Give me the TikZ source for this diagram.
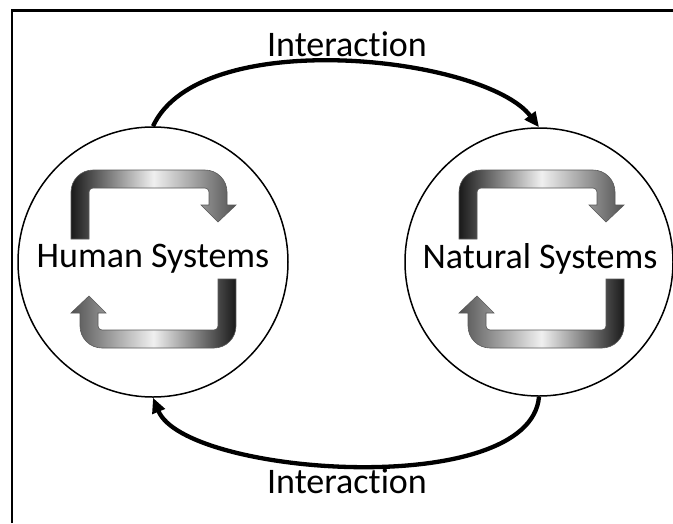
\documentclass[tikz,border=0pt]{standalone}
\usepackage{fontspec}
\setmainfont{Carlito}[Ligatures=NoCommon]
\usetikzlibrary{arrows.meta}

% Rounded cycle arrow with a gradient fill.
% #1,#2: centre of the pair, #3: +1 upper arrow / -1 lower arrow, #4: shading keys
\newcommand\cyclearrow[4]{%
  \def\sg{#3}%
  \path[cyclefill,#4]
    ({\sg*-82.5},{\sg*-20}) -- ({\sg*-82.5},{\sg*-67})
    .. controls ({\sg*-82.5},{\sg*-79.15}) and ({\sg*-72.65},{\sg*-89}) .. ({\sg*-60.5},{\sg*-89})
    -- ({\sg*51.5},{\sg*-89})
    .. controls ({\sg*63.65},{\sg*-89}) and ({\sg*73.5},{\sg*-79.15}) .. ({\sg*73.5},{\sg*-67})
    -- ({\sg*73.5},{\sg*-54}) -- ({\sg*82.5},{\sg*-54}) -- ({\sg*64.5},{\sg*-37})
    -- ({\sg*47.5},{\sg*-54}) -- ({\sg*55.5},{\sg*-54}) -- ({\sg*55.5},{\sg*-67})
    .. controls ({\sg*55.5},{\sg*-69.21}) and ({\sg*53.71},{\sg*-71}) .. ({\sg*51.5},{\sg*-71})
    -- ({\sg*-60.5},{\sg*-71})
    .. controls ({\sg*-62.71},{\sg*-71}) and ({\sg*-64.5},{\sg*-69.21}) .. ({\sg*-64.5},{\sg*-67})
    -- ({\sg*-64.5},{\sg*-20}) -- cycle;%
}

\begin{document}
\begin{tikzpicture}[x=1pt,y=-1pt,
  system/.style={circle,draw,line width=1.5pt,inner sep=0pt},
  label/.style={inner sep=0pt,anchor=base,font=\fontsize{36}{40}\selectfont},
  link/.style={line width=4.3pt,-{Triangle[length=15pt,width=13pt]}},
  cyclefill/.style={draw=black!65,line width=0.6pt},
  upshade/.style={left color=black!90,right color=black!68,middle color=black!6},
  downshade/.style={left color=black!68,right color=black!90,middle color=black!6}]

  \useasboundingbox (0,0) rectangle (673,523);
  \fill[white] (0,0) rectangle (673,523);

  % frame
  \draw[line width=2.7pt] (12,523) -- (12,10.7) -- (673,10.7);

  % the two systems
  \node[system,minimum size=270pt] (hs) at (153,262) {};
  \node[system,minimum size=268pt] (ns) at (539,262) {};

  % internal feedback loops
  \begin{scope}[shift={(153.5,259)}]
    \cyclearrow{0}{0}{1}{upshade}
    \cyclearrow{0}{0}{-1}{downshade}
  \end{scope}
  \begin{scope}[shift={(541.5,259)}]
    \cyclearrow{0}{0}{1}{upshade}
    \cyclearrow{0}{0}{-1}{downshade}
  \end{scope}

  \node[label] (hstext) at (153,267) {Human Systems};
  \node[label] (nstext) at (540,268) {Natural Systems};

  % interactions between the systems
  \draw[link] (hs.north) .. controls +(47,-102) and +(-54,-71) .. (ns.north);
  \draw[link] (ns.south) .. controls +(-9,104) and +(32,78) .. (hs.south);

  \node[label] (toplabel) at (347,56) {Interaction};
  \node[label] (botlabel) at (347,493) {Interaction};
\end{tikzpicture}
\end{document}
